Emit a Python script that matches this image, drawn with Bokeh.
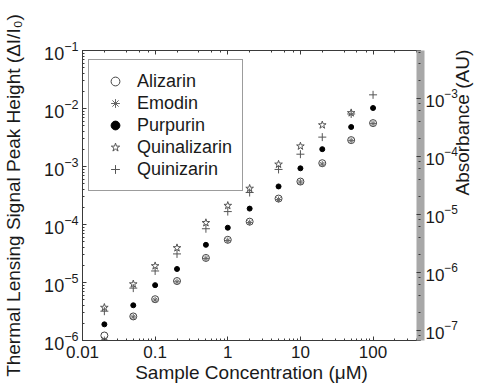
import math
from bokeh.plotting import figure
from bokeh.models import Range1d, LogAxis, LogScale, LogTicker, CustomJSTickFormatter
from bokeh.embed import file_html
from bokeh.resources import INLINE

NaN = float("nan")

# Sample concentration (uM)
conc = [0.02, 0.05, 0.1, 0.2, 0.5, 1, 2, 5, 10, 20, 50, 100]

# Thermal lensing signal peak height (dI/I0)
alizarin = [1.22e-6, 2.6e-6, 5.15e-6, 1.06e-5, 2.65e-5, 5.45e-5, 1.12e-4, 2.8e-4, 5.5e-4, 1.14e-3, 2.85e-3, 5.6e-3]
emodin = [1.04e-6, 2.55e-6, 5.0e-6, 1.03e-5, 2.6e-5, 5.3e-5, 1.08e-4, 2.7e-4, 5.4e-4, 1.1e-3, 2.8e-3, 5.5e-3]
purpurin = [1.9e-6, 4.05e-6, 9.0e-6, 1.71e-5, 4.46e-5, 8.8e-5, 1.88e-4, 4.53e-4, 9.3e-4, 1.99e-3, 4.8e-3, 1.02e-2]
quinalizarin = [3.7e-6, 9.4e-6, 1.93e-5, 3.95e-5, 1.07e-4, 2.12e-4, 4.18e-4, 1.09e-3, 2.24e-3, 5.19e-3, 8.4e-3, NaN]
quinizarin = [3.2e-6, 8.0e-6, 1.58e-5, 3.11e-5, 8.45e-5, 1.67e-4, 3.56e-4, 8.9e-4, 1.63e-3, 3.21e-3, 8.05e-3, 1.72e-2]

x_limits = (0.01, 450)
y_limits = (1e-6, 1e-1)
abs_limits = (10 ** -7.18, 10 ** -2.18)

FONT = "Liberation Sans"
TXT = "#1a1a1a"
AX = "#3a3a3a"

p = figure(width=486, height=385, x_axis_type="log", y_axis_type="log",
           x_range=Range1d(*x_limits), y_range=Range1d(*y_limits),
           output_backend="svg", toolbar_location=None,
           min_border_left=81, min_border_right=63, min_border_top=50, min_border_bottom=45)
p.extra_y_ranges = {"abs": Range1d(*abs_limits)}
p.extra_y_scales = {"abs": LogScale()}

p.background_fill_color = "white"
p.border_fill_color = "white"
p.outline_line_color = AX
p.outline_line_width = 1
p.grid.visible = False

bottom = p.below[0]
left = p.left[0]

right = LogAxis(y_range_name="abs", ticker=LogTicker())
p.add_layout(right, "right")
top = LogAxis(ticker=LogTicker(), formatter=CustomJSTickFormatter(code="return ''"))
p.add_layout(top, "above")

bottom.formatter = CustomJSTickFormatter(code="return tick.toString()")

for ax in [bottom, left, right, top]:
    ax.axis_line_color = AX
    ax.major_tick_line_color = AX
    ax.minor_tick_line_color = AX
    ax.major_tick_in = 4
    ax.major_tick_out = 0
    ax.minor_tick_in = 2
    ax.minor_tick_out = 0
    ax.major_label_text_font = FONT
    ax.major_label_text_font_size = "18px"
    ax.major_label_text_color = TXT
    ax.axis_label_text_font = FONT
    ax.axis_label_text_font_size = "19px"
    ax.axis_label_text_font_style = "normal"
    ax.axis_label_text_color = TXT

top.major_label_text_font_size = "1px"
top.major_label_standoff = 0
right.axis_line_color = "#a8a8a8"
right.axis_line_width = 8
right.major_label_text_font_size = "17px"
right.major_label_standoff = 5
right.axis_label_standoff = 2
right.axis_label = "Absorbance (AU)"
if "axis_label_orientation" in right.properties():
    right.axis_label_orientation = math.pi / 2
right.axis_label_text_baseline = "middle"

bottom.axis_label = "Sample Concentration (\u03bcM)"
bottom.major_label_text_font_size = "17px"
bottom.major_label_standoff = 5
bottom.axis_label_standoff = 1
left.axis_label = "Thermal Lensing Signal Peak Height (\u0394I/I\u2080)"
left.major_label_standoff = 4
left.axis_label_standoff = 17

p.scatter(conc, alizarin, marker="circle", size=7, fill_color=None, line_color="#444444", line_width=1, legend_label="Alizarin")
p.scatter(conc, emodin, marker="asterisk", size=6, line_color="#666666", line_width=1, legend_label="Emodin")
p.scatter(conc, purpurin, marker="circle", size=5, fill_color="black", line_color="black", legend_label="Purpurin")
p.scatter(conc, quinalizarin, marker="star", size=8, fill_color=None, line_color="#555555", line_width=1, legend_label="Quinalizarin")
p.scatter(conc, quinizarin, marker="cross", size=8, line_color="#555555", line_width=1, legend_label="Quinizarin")

lg = p.legend[0]
lg.location = (6, 149)
lg.border_line_color = AX
lg.border_line_width = 1
lg.background_fill_color = "white"
lg.background_fill_alpha = 1
lg.padding = 10
lg.margin = 0
lg.spacing = 0
lg.glyph_width = 32
lg.glyph_height = 22
lg.label_height = 22
lg.label_standoff = 6
lg.label_text_font = FONT
lg.label_text_font_size = "18px"
lg.label_text_color = TXT

open("out.html", "w").write(file_html(p, INLINE))
